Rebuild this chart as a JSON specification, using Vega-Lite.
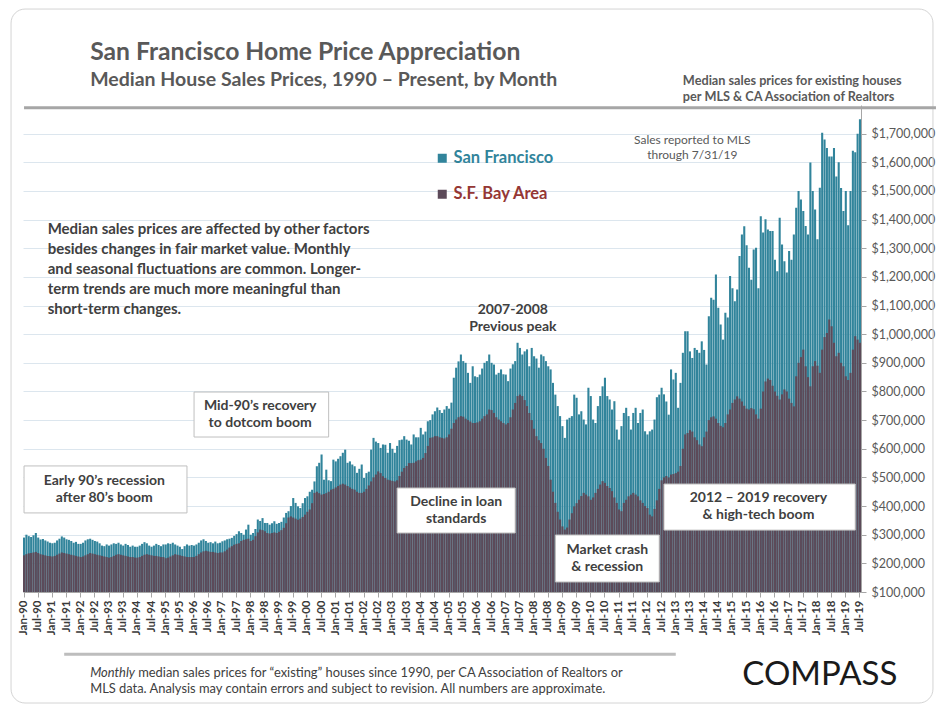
{
"$schema": "https://vega.github.io/schema/vega-lite/v6.json",
"width": 838,
"height": 487,
"autosize": {"type": "none"},
"padding": {"left": 23, "top": 105, "right": 75, "bottom": 113},
"background": "#ffffff",
"config": {"view": {"stroke": null}, "font": "Lato"},
"resolve": {"axis": {"x": "independent", "y": "independent"}},
"datasets": {"prices": [
{"m":"1990-01","sf":290000,"ba":228000},{"m":"1990-02","sf":300000,"ba":232000},{"m":"1990-03","sf":295000,"ba":235000},{"m":"1990-04","sf":292000,"ba":236000},{"m":"1990-05","sf":298000,"ba":238000},{"m":"1990-06","sf":306000,"ba":240000},{"m":"1990-07","sf":290000,"ba":236000},{"m":"1990-08","sf":283000,"ba":232000},{"m":"1990-09","sf":285000,"ba":230000},{"m":"1990-10","sf":280000,"ba":228000},{"m":"1990-11","sf":276000,"ba":226000},{"m":"1990-12","sf":272000,"ba":225000},
{"m":"1991-01","sf":270000,"ba":224000},{"m":"1991-02","sf":272000,"ba":226000},{"m":"1991-03","sf":280000,"ba":230000},{"m":"1991-04","sf":286000,"ba":234000},{"m":"1991-05","sf":294000,"ba":238000},{"m":"1991-06","sf":290000,"ba":236000},{"m":"1991-07","sf":284000,"ba":234000},{"m":"1991-08","sf":282000,"ba":232000},{"m":"1991-09","sf":278000,"ba":230000},{"m":"1991-10","sf":272000,"ba":228000},{"m":"1991-11","sf":275000,"ba":226000},{"m":"1991-12","sf":268000,"ba":224000},
{"m":"1992-01","sf":268000,"ba":222000},{"m":"1992-02","sf":272000,"ba":224000},{"m":"1992-03","sf":280000,"ba":228000},{"m":"1992-04","sf":284000,"ba":232000},{"m":"1992-05","sf":286000,"ba":236000},{"m":"1992-06","sf":282000,"ba":234000},{"m":"1992-07","sf":278000,"ba":232000},{"m":"1992-08","sf":276000,"ba":230000},{"m":"1992-09","sf":270000,"ba":228000},{"m":"1992-10","sf":262000,"ba":226000},{"m":"1992-11","sf":260000,"ba":224000},{"m":"1992-12","sf":266000,"ba":222000},
{"m":"1993-01","sf":262000,"ba":220000},{"m":"1993-02","sf":266000,"ba":222000},{"m":"1993-03","sf":270000,"ba":226000},{"m":"1993-04","sf":268000,"ba":230000},{"m":"1993-05","sf":272000,"ba":232000},{"m":"1993-06","sf":266000,"ba":230000},{"m":"1993-07","sf":262000,"ba":228000},{"m":"1993-08","sf":268000,"ba":226000},{"m":"1993-09","sf":264000,"ba":224000},{"m":"1993-10","sf":258000,"ba":222000},{"m":"1993-11","sf":262000,"ba":222000},{"m":"1993-12","sf":258000,"ba":220000},
{"m":"1994-01","sf":258000,"ba":220000},{"m":"1994-02","sf":262000,"ba":222000},{"m":"1994-03","sf":268000,"ba":226000},{"m":"1994-04","sf":274000,"ba":230000},{"m":"1994-05","sf":270000,"ba":232000},{"m":"1994-06","sf":262000,"ba":230000},{"m":"1994-07","sf":258000,"ba":228000},{"m":"1994-08","sf":262000,"ba":226000},{"m":"1994-09","sf":268000,"ba":226000},{"m":"1994-10","sf":264000,"ba":224000},{"m":"1994-11","sf":260000,"ba":222000},{"m":"1994-12","sf":266000,"ba":222000},
{"m":"1995-01","sf":266000,"ba":218000},{"m":"1995-02","sf":270000,"ba":220000},{"m":"1995-03","sf":268000,"ba":224000},{"m":"1995-04","sf":272000,"ba":228000},{"m":"1995-05","sf":266000,"ba":232000},{"m":"1995-06","sf":262000,"ba":230000},{"m":"1995-07","sf":258000,"ba":228000},{"m":"1995-08","sf":250000,"ba":226000},{"m":"1995-09","sf":260000,"ba":224000},{"m":"1995-10","sf":266000,"ba":222000},{"m":"1995-11","sf":262000,"ba":222000},{"m":"1995-12","sf":264000,"ba":222000},
{"m":"1996-01","sf":262000,"ba":222000},{"m":"1996-02","sf":266000,"ba":226000},{"m":"1996-03","sf":272000,"ba":232000},{"m":"1996-04","sf":280000,"ba":238000},{"m":"1996-05","sf":284000,"ba":242000},{"m":"1996-06","sf":278000,"ba":244000},{"m":"1996-07","sf":272000,"ba":242000},{"m":"1996-08","sf":274000,"ba":240000},{"m":"1996-09","sf":270000,"ba":240000},{"m":"1996-10","sf":276000,"ba":238000},{"m":"1996-11","sf":270000,"ba":236000},{"m":"1996-12","sf":272000,"ba":238000},
{"m":"1997-01","sf":277000,"ba":238000},{"m":"1997-02","sf":280000,"ba":242000},{"m":"1997-03","sf":284000,"ba":248000},{"m":"1997-04","sf":286000,"ba":255000},{"m":"1997-05","sf":289000,"ba":260000},{"m":"1997-06","sf":296000,"ba":265000},{"m":"1997-07","sf":302000,"ba":268000},{"m":"1997-08","sf":312000,"ba":270000},{"m":"1997-09","sf":306000,"ba":278000},{"m":"1997-10","sf":300000,"ba":282000},{"m":"1997-11","sf":318000,"ba":284000},{"m":"1997-12","sf":335000,"ba":286000},
{"m":"1998-01","sf":300000,"ba":278000},{"m":"1998-02","sf":306000,"ba":282000},{"m":"1998-03","sf":320000,"ba":295000},{"m":"1998-04","sf":353000,"ba":308000},{"m":"1998-05","sf":348000,"ba":318000},{"m":"1998-06","sf":358000,"ba":316000},{"m":"1998-07","sf":341000,"ba":312000},{"m":"1998-08","sf":341000,"ba":306000},{"m":"1998-09","sf":335000,"ba":304000},{"m":"1998-10","sf":340000,"ba":306000},{"m":"1998-11","sf":347000,"ba":308000},{"m":"1998-12","sf":338000,"ba":306000},
{"m":"1999-01","sf":341000,"ba":310000},{"m":"1999-02","sf":345000,"ba":316000},{"m":"1999-03","sf":360000,"ba":324000},{"m":"1999-04","sf":376000,"ba":340000},{"m":"1999-05","sf":382000,"ba":360000},{"m":"1999-06","sf":400000,"ba":364000},{"m":"1999-07","sf":428000,"ba":360000},{"m":"1999-08","sf":411000,"ba":356000},{"m":"1999-09","sf":399000,"ba":352000},{"m":"1999-10","sf":393000,"ba":356000},{"m":"1999-11","sf":410000,"ba":362000},{"m":"1999-12","sf":428000,"ba":370000},
{"m":"2000-01","sf":434000,"ba":380000},{"m":"2000-02","sf":450000,"ba":388000},{"m":"2000-03","sf":457000,"ba":410000},{"m":"2000-04","sf":486000,"ba":446000},{"m":"2000-05","sf":539000,"ba":450000},{"m":"2000-06","sf":551000,"ba":445000},{"m":"2000-07","sf":580000,"ba":440000},{"m":"2000-08","sf":492000,"ba":442000},{"m":"2000-09","sf":527000,"ba":445000},{"m":"2000-10","sf":490000,"ba":450000},{"m":"2000-11","sf":487000,"ba":457000},{"m":"2000-12","sf":562000,"ba":460000},
{"m":"2001-01","sf":556000,"ba":465000},{"m":"2001-02","sf":565000,"ba":470000},{"m":"2001-03","sf":574000,"ba":475000},{"m":"2001-04","sf":586000,"ba":478000},{"m":"2001-05","sf":597000,"ba":475000},{"m":"2001-06","sf":551000,"ba":470000},{"m":"2001-07","sf":556000,"ba":465000},{"m":"2001-08","sf":545000,"ba":460000},{"m":"2001-09","sf":539000,"ba":457000},{"m":"2001-10","sf":516000,"ba":450000},{"m":"2001-11","sf":530000,"ba":446000},{"m":"2001-12","sf":545000,"ba":446000},
{"m":"2002-01","sf":498000,"ba":450000},{"m":"2002-02","sf":515000,"ba":460000},{"m":"2002-03","sf":520000,"ba":472000},{"m":"2002-04","sf":597000,"ba":486000},{"m":"2002-05","sf":638000,"ba":500000},{"m":"2002-06","sf":625000,"ba":510000},{"m":"2002-07","sf":620000,"ba":521000},{"m":"2002-08","sf":603000,"ba":515000},{"m":"2002-09","sf":615000,"ba":504000},{"m":"2002-10","sf":614000,"ba":498000},{"m":"2002-11","sf":586000,"ba":492000},{"m":"2002-12","sf":620000,"ba":490000},
{"m":"2003-01","sf":600000,"ba":488000},{"m":"2003-02","sf":586000,"ba":486000},{"m":"2003-03","sf":610000,"ba":490000},{"m":"2003-04","sf":630000,"ba":505000},{"m":"2003-05","sf":632000,"ba":520000},{"m":"2003-06","sf":644000,"ba":533000},{"m":"2003-07","sf":632000,"ba":540000},{"m":"2003-08","sf":628000,"ba":550000},{"m":"2003-09","sf":615000,"ba":550000},{"m":"2003-10","sf":650000,"ba":551000},{"m":"2003-11","sf":640000,"ba":556000},{"m":"2003-12","sf":640000,"ba":560000},
{"m":"2004-01","sf":673000,"ba":562000},{"m":"2004-02","sf":650000,"ba":568000},{"m":"2004-03","sf":660000,"ba":585000},{"m":"2004-04","sf":696000,"ba":610000},{"m":"2004-05","sf":700000,"ba":638000},{"m":"2004-06","sf":720000,"ba":640000},{"m":"2004-07","sf":731000,"ba":644000},{"m":"2004-08","sf":744000,"ba":644000},{"m":"2004-09","sf":735000,"ba":640000},{"m":"2004-10","sf":725000,"ba":638000},{"m":"2004-11","sf":737000,"ba":636000},{"m":"2004-12","sf":749000,"ba":640000},
{"m":"2005-01","sf":740000,"ba":650000},{"m":"2005-02","sf":761000,"ba":670000},{"m":"2005-03","sf":848000,"ba":690000},{"m":"2005-04","sf":883000,"ba":702000},{"m":"2005-05","sf":905000,"ba":710000},{"m":"2005-06","sf":929000,"ba":714000},{"m":"2005-07","sf":906000,"ba":712000},{"m":"2005-08","sf":900000,"ba":705000},{"m":"2005-09","sf":865000,"ba":700000},{"m":"2005-10","sf":830000,"ba":695000},{"m":"2005-11","sf":888000,"ba":690000},{"m":"2005-12","sf":853000,"ba":690000},
{"m":"2006-01","sf":850000,"ba":692000},{"m":"2006-02","sf":859000,"ba":696000},{"m":"2006-03","sf":880000,"ba":705000},{"m":"2006-04","sf":900000,"ba":714000},{"m":"2006-05","sf":906000,"ba":720000},{"m":"2006-06","sf":929000,"ba":737000},{"m":"2006-07","sf":900000,"ba":735000},{"m":"2006-08","sf":894000,"ba":725000},{"m":"2006-09","sf":859000,"ba":710000},{"m":"2006-10","sf":865000,"ba":702000},{"m":"2006-11","sf":877000,"ba":696000},{"m":"2006-12","sf":860000,"ba":690000},
{"m":"2007-01","sf":859000,"ba":685000},{"m":"2007-02","sf":836000,"ba":690000},{"m":"2007-03","sf":880000,"ba":710000},{"m":"2007-04","sf":895000,"ba":737000},{"m":"2007-05","sf":906000,"ba":760000},{"m":"2007-06","sf":970000,"ba":784000},{"m":"2007-07","sf":952000,"ba":789000},{"m":"2007-08","sf":929000,"ba":784000},{"m":"2007-09","sf":940000,"ba":770000},{"m":"2007-10","sf":947000,"ba":749000},{"m":"2007-11","sf":888000,"ba":725000},{"m":"2007-12","sf":952000,"ba":700000},
{"m":"2008-01","sf":923000,"ba":670000},{"m":"2008-02","sf":915000,"ba":644000},{"m":"2008-03","sf":883000,"ba":630000},{"m":"2008-04","sf":929000,"ba":620000},{"m":"2008-05","sf":923000,"ba":600000},{"m":"2008-06","sf":906000,"ba":568000},{"m":"2008-07","sf":888000,"ba":540000},{"m":"2008-08","sf":877000,"ba":492000},{"m":"2008-09","sf":830000,"ba":450000},{"m":"2008-10","sf":789000,"ba":411000},{"m":"2008-11","sf":749000,"ba":380000},{"m":"2008-12","sf":714000,"ba":353000},
{"m":"2009-01","sf":679000,"ba":329000},{"m":"2009-02","sf":638000,"ba":318000},{"m":"2009-03","sf":702000,"ba":325000},{"m":"2009-04","sf":708000,"ba":353000},{"m":"2009-05","sf":714000,"ba":375000},{"m":"2009-06","sf":789000,"ba":399000},{"m":"2009-07","sf":778000,"ba":410000},{"m":"2009-08","sf":720000,"ba":422000},{"m":"2009-09","sf":731000,"ba":435000},{"m":"2009-10","sf":702000,"ba":446000},{"m":"2009-11","sf":685000,"ba":440000},{"m":"2009-12","sf":813000,"ba":434000},
{"m":"2010-01","sf":784000,"ba":422000},{"m":"2010-02","sf":702000,"ba":430000},{"m":"2010-03","sf":690000,"ba":446000},{"m":"2010-04","sf":749000,"ba":460000},{"m":"2010-05","sf":784000,"ba":475000},{"m":"2010-06","sf":818000,"ba":487000},{"m":"2010-07","sf":848000,"ba":481000},{"m":"2010-08","sf":784000,"ba":470000},{"m":"2010-09","sf":772000,"ba":463000},{"m":"2010-10","sf":737000,"ba":452000},{"m":"2010-11","sf":766000,"ba":430000},{"m":"2010-12","sf":667000,"ba":411000},
{"m":"2011-01","sf":632000,"ba":388000},{"m":"2011-02","sf":679000,"ba":382000},{"m":"2011-03","sf":725000,"ba":411000},{"m":"2011-04","sf":743000,"ba":422000},{"m":"2011-05","sf":714000,"ba":434000},{"m":"2011-06","sf":667000,"ba":440000},{"m":"2011-07","sf":725000,"ba":446000},{"m":"2011-08","sf":743000,"ba":440000},{"m":"2011-09","sf":690000,"ba":434000},{"m":"2011-10","sf":725000,"ba":420000},{"m":"2011-11","sf":737000,"ba":411000},{"m":"2011-12","sf":661000,"ba":400000},
{"m":"2012-01","sf":650000,"ba":393000},{"m":"2012-02","sf":661000,"ba":370000},{"m":"2012-03","sf":667000,"ba":364000},{"m":"2012-04","sf":702000,"ba":390000},{"m":"2012-05","sf":780000,"ba":420000},{"m":"2012-06","sf":789000,"ba":460000},{"m":"2012-07","sf":813000,"ba":490000},{"m":"2012-08","sf":790000,"ba":500000},{"m":"2012-09","sf":765000,"ba":505000},{"m":"2012-10","sf":719000,"ba":500000},{"m":"2012-11","sf":877000,"ba":510000},{"m":"2012-12","sf":842000,"ba":512000},
{"m":"2013-01","sf":865000,"ba":515000},{"m":"2013-02","sf":743000,"ba":520000},{"m":"2013-03","sf":830000,"ba":540000},{"m":"2013-04","sf":935000,"ba":600000},{"m":"2013-05","sf":1010000,"ba":650000},{"m":"2013-06","sf":1010000,"ba":655000},{"m":"2013-07","sf":940000,"ba":665000},{"m":"2013-08","sf":917000,"ba":660000},{"m":"2013-09","sf":952000,"ba":640000},{"m":"2013-10","sf":945000,"ba":630000},{"m":"2013-11","sf":935000,"ba":615000},{"m":"2013-12","sf":975000,"ba":609000},
{"m":"2014-01","sf":945000,"ba":640000},{"m":"2014-02","sf":894000,"ba":660000},{"m":"2014-03","sf":1063000,"ba":700000},{"m":"2014-04","sf":1127000,"ba":710000},{"m":"2014-05","sf":1120000,"ba":713000},{"m":"2014-06","sf":1208000,"ba":705000},{"m":"2014-07","sf":1092000,"ba":690000},{"m":"2014-08","sf":1034000,"ba":680000},{"m":"2014-09","sf":981000,"ba":675000},{"m":"2014-10","sf":1075000,"ba":690000},{"m":"2014-11","sf":1058000,"ba":720000},{"m":"2014-12","sf":1203000,"ba":737000},
{"m":"2015-01","sf":1160000,"ba":760000},{"m":"2015-02","sf":1115000,"ba":772000},{"m":"2015-03","sf":1156000,"ba":783000},{"m":"2015-04","sf":1273000,"ba":775000},{"m":"2015-05","sf":1348000,"ba":765000},{"m":"2015-06","sf":1377000,"ba":750000},{"m":"2015-07","sf":1310000,"ba":740000},{"m":"2015-08","sf":1232000,"ba":737000},{"m":"2015-09","sf":1190000,"ba":742000},{"m":"2015-10","sf":1296000,"ba":738000},{"m":"2015-11","sf":1302000,"ba":720000},{"m":"2015-12","sf":1160000,"ba":705000},
{"m":"2016-01","sf":1412000,"ba":740000},{"m":"2016-02","sf":1355000,"ba":800000},{"m":"2016-03","sf":1401000,"ba":835000},{"m":"2016-04","sf":1365000,"ba":845000},{"m":"2016-05","sf":1360000,"ba":840000},{"m":"2016-06","sf":1360000,"ba":820000},{"m":"2016-07","sf":1260000,"ba":800000},{"m":"2016-08","sf":1220000,"ba":785000},{"m":"2016-09","sf":1406000,"ba":772000},{"m":"2016-10","sf":1313000,"ba":790000},{"m":"2016-11","sf":1255000,"ba":807000},{"m":"2016-12","sf":1215000,"ba":800000},
{"m":"2017-01","sf":1290000,"ba":775000},{"m":"2017-02","sf":1260000,"ba":760000},{"m":"2017-03","sf":1348000,"ba":748000},{"m":"2017-04","sf":1441000,"ba":853000},{"m":"2017-05","sf":1500000,"ba":900000},{"m":"2017-06","sf":1470000,"ba":920000},{"m":"2017-07","sf":1430000,"ba":946000},{"m":"2017-08","sf":1378000,"ba":888000},{"m":"2017-09","sf":1348000,"ba":850000},{"m":"2017-10","sf":1599000,"ba":818000},{"m":"2017-11","sf":1500000,"ba":888000},{"m":"2017-12","sf":1435000,"ba":906000},
{"m":"2018-01","sf":1331000,"ba":890000},{"m":"2018-02","sf":1511000,"ba":865000},{"m":"2018-03","sf":1703000,"ba":946000},{"m":"2018-04","sf":1680000,"ba":990000},{"m":"2018-05","sf":1650000,"ba":1004000},{"m":"2018-06","sf":1620000,"ba":1051000},{"m":"2018-07","sf":1620000,"ba":1028000},{"m":"2018-08","sf":1650000,"ba":970000},{"m":"2018-09","sf":1550000,"ba":923000},{"m":"2018-10","sf":1600000,"ba":935000},{"m":"2018-11","sf":1510000,"ba":900000},{"m":"2018-12","sf":1430000,"ba":888000},
{"m":"2019-01","sf":1500000,"ba":853000},{"m":"2019-02","sf":1380000,"ba":840000},{"m":"2019-03","sf":1500000,"ba":865000},{"m":"2019-04","sf":1640000,"ba":946000},{"m":"2019-05","sf":1635000,"ba":993000},{"m":"2019-06","sf":1700000,"ba":981000},{"m":"2019-07","sf":1750000,"ba":970000}
]},
"layer": [
{
"data": {"values": [{"m1":"1990-01","m2":"2019-07","v1":-287500,"v2":2135000}]},
"mark": {"type": "rect", "fill": null, "stroke": "#d4d4d4", "strokeWidth": 1, "cornerRadius": 14, "xOffset": -13, "x2Offset": 73},
"encoding": {
"x": {"field": "m1", "type": "ordinal", "axis": null},
"x2": {"field": "m2"},
"y": {"field": "v1", "type": "quantitative", "scale": {"domain": [100000, 1800000], "nice": false, "zero": false}, "axis": null},
"y2": {"field": "v2"}
}
},
{
"data": {"name": "prices"},
"mark": {"type": "bar"},
"encoding": {
"x": {"field": "m", "type": "ordinal", "scale": {"paddingInner": 0.12, "paddingOuter": 0},
"axis": {"title": null, "values": ["1990-01","1990-07","1991-01","1991-07","1992-01","1992-07","1993-01","1993-07","1994-01","1994-07","1995-01","1995-07","1996-01","1996-07","1997-01","1997-07","1998-01","1998-07","1999-01","1999-07","2000-01","2000-07","2001-01","2001-07","2002-01","2002-07","2003-01","2003-07","2004-01","2004-07","2005-01","2005-07","2006-01","2006-07","2007-01","2007-07","2008-01","2008-07","2009-01","2009-07","2010-01","2010-07","2011-01","2011-07","2012-01","2012-07","2013-01","2013-07","2014-01","2014-07","2015-01","2015-07","2016-01","2016-07","2017-01","2017-07","2018-01","2018-07","2019-01","2019-07"],
"labelExpr": "(substring(datum.value, 5, 7) == '01' ? 'Jan-' : 'Jul-') + substring(datum.value, 2, 4)",
"labelAngle": -90, "labelFont": "Lato", "labelFontSize": 11.5, "labelFontWeight": "bold", "labelColor": "#3a3a3a", "labelPadding": 3, "labelOverlap": false, "labelBound": false, "tickSize": 5, "tickColor": "#a6a6a6", "domainColor": "#a6a6a6", "grid": false}},
"y": {"field": "sf", "type": "quantitative", "scale": {"domain": [100000, 1800000], "nice": false, "zero": false},
"axis": {"title": null, "orient": "right", "values": [100000,200000,300000,400000,500000,600000,700000,800000,900000,1000000,1100000,1200000,1300000,1400000,1500000,1600000,1700000], "format": "$,.0f", "labelFont": "Lato", "labelFontSize": 12.5, "labelColor": "#595959", "labelPadding": 5, "tickSize": 5, "tickColor": "#a6a6a6", "domainColor": "#a6a6a6", "grid": true, "gridColor": "#dce6ee"}},
"y2": {"datum": 100000},
"color": {"datum": "San Francisco", "type": "nominal", "scale": {"domain": ["San Francisco", "S.F. Bay Area"], "range": ["#31849b", "#5c4a59"]},
"legend": {"title": null, "orient": "none", "legendX": 411, "legendY": 45, "symbolType": "square", "symbolSize": 81, "symbolStrokeWidth": 0, "labelFont": "Lato", "labelFontSize": 16.5, "labelFontWeight": "bold", "rowPadding": 19, "labelOffset": 3,
"encode": {"labels": {"update": {"fill": {"signal": "datum.value === 'San Francisco' ? '#31849b' : '#953735'"}}}, "symbols": {"update": {"fill": {"signal": "datum.value === 'San Francisco' ? '#31849b' : '#953735'"}}}}}}
}
},
{
"data": {"name": "prices"},
"mark": {"type": "bar"},
"encoding": {
"x": {"field": "m", "type": "ordinal", "axis": null},
"y": {"field": "ba", "type": "quantitative", "scale": {"domain": [100000, 1800000], "nice": false, "zero": false}, "axis": null},
"y2": {"datum": 100000},
"color": {"datum": "S.F. Bay Area", "type": "nominal"}
}
},
{
"data": {"values": [
{"m1":"1990-01","m2":"1995-10","v1":376000,"v2":540000},
{"m1":"1996-01","m2":"2000-10","v1":641000,"v2":798000},
{"m1":"2003-03","m2":"2007-05","v1":306000,"v2":463000},
{"m1":"2008-10","m2":"2012-06","v1":135000,"v2":299000},
{"m1":"2012-08","m2":"2019-05","v1":316000,"v2":477000}
]},
"mark": {"type": "rect", "fill": "#ffffff", "stroke": "#bfbfbf", "strokeWidth": 1},
"encoding": {
"x": {"field": "m1", "type": "ordinal", "axis": null},
"x2": {"field": "m2"},
"y": {"field": "v1", "type": "quantitative", "scale": {"domain": [100000, 1800000], "nice": false, "zero": false}, "axis": null},
"y2": {"field": "v2"}
}
},
{
"data": {"values": [
{"m":"1992-11","v":487500,"t":"Early 90’s recession\nafter 80’s boom"},
{"m":"1998-05","v":749300,"t":"Mid-90’s recovery\nto dotcom boom"},
{"m":"2005-04","v":414200,"t":"Decline in loan\nstandards"},
{"m":"2010-08","v":246600,"t":"Market crash\n& recession"},
{"m":"2015-12","v":426400,"t":"2012 – 2019  recovery\n& high-tech boom"},
{"m":"2007-04","v":1084400,"t":"2007-2008\nPrevious peak"}
]},
"mark": {"type": "text", "lineBreak": "\n", "font": "Lato", "fontSize": 14, "fontWeight": "bold", "color": "#404040", "align": "center", "baseline": "middle", "lineHeight": 17},
"encoding": {
"x": {"field": "m", "type": "ordinal", "axis": null},
"y": {"field": "v", "type": "quantitative", "scale": {"domain": [100000, 1800000], "nice": false, "zero": false}, "axis": null},
"text": {"field": "t"}
}
},
{
"data": {"values": [
{"m":"1990-11","v":1367100,"t":"Median sales prices are affected by other factors\nbesides changes in fair market value. Monthly\nand seasonal fluctuations are common. Longer-\nterm trends are much more meaningful than\nshort-term changes."}
]},
"mark": {"type": "text", "lineBreak": "\n", "font": "Lato", "fontSize": 15, "fontWeight": "bold", "color": "#404040", "align": "left", "baseline": "middle", "lineHeight": 20},
"encoding": {
"x": {"field": "m", "type": "ordinal", "axis": null},
"y": {"field": "v", "type": "quantitative", "scale": {"domain": [100000, 1800000], "nice": false, "zero": false}, "axis": null},
"text": {"field": "t"}
}
},
{
"data": {"values": [
{"m":"2013-08","v":1677800,"t":"Sales reported to MLS\nthrough 7/31/19"}
]},
"mark": {"type": "text", "lineBreak": "\n", "font": "Lato", "fontSize": 12, "color": "#595959", "align": "center", "baseline": "middle", "lineHeight": 15},
"encoding": {
"x": {"field": "m", "type": "ordinal", "axis": null},
"y": {"field": "v", "type": "quantitative", "scale": {"domain": [100000, 1800000], "nice": false, "zero": false}, "axis": null},
"text": {"field": "t"}
}
},
{
"data": {"values": [
{"m":"1992-05","v":1957000,"t":"San Francisco Home Price Appreciation"}
]},
"mark": {"type": "text", "font": "Lato", "fontSize": 24.7, "fontWeight": "bold", "color": "#595959", "align": "left", "baseline": "alphabetic"},
"encoding": {
"x": {"field": "m", "type": "ordinal", "axis": null},
"y": {"field": "v", "type": "quantitative", "scale": {"domain": [100000, 1800000], "nice": false, "zero": false}, "axis": null},
"text": {"field": "t"}
}
},
{
"data": {"values": [
{"m":"1992-05","v":1866000,"t":"Median House Sales Prices, 1990 – Present, by Month"}
]},
"mark": {"type": "text", "font": "Lato", "fontSize": 19.5, "fontWeight": "bold", "color": "#595959", "align": "left", "baseline": "alphabetic"},
"encoding": {
"x": {"field": "m", "type": "ordinal", "axis": null},
"y": {"field": "v", "type": "quantitative", "scale": {"domain": [100000, 1800000], "nice": false, "zero": false}, "axis": null},
"text": {"field": "t"}
}
},
{
"data": {"values": [
{"m":"2013-04","v":1883700,"t":"Median sales prices for existing houses\nper MLS & CA Association  of Realtors"}
]},
"mark": {"type": "text", "lineBreak": "\n", "font": "Lato", "fontSize": 12.7, "fontWeight": "bold", "color": "#595959", "align": "left", "baseline": "middle", "lineHeight": 16},
"encoding": {
"x": {"field": "m", "type": "ordinal", "axis": null},
"y": {"field": "v", "type": "quantitative", "scale": {"domain": [100000, 1800000], "nice": false, "zero": false}, "axis": null},
"text": {"field": "t"}
}
},
{
"data": {"values": [{"m1":"1990-01","m2":"2019-07","v":1790500}]},
"mark": {"type": "rule", "color": "#a6a6a6", "strokeWidth": 3, "x2Offset": 76},
"encoding": {
"x": {"field": "m1", "type": "ordinal", "axis": null},
"x2": {"field": "m2"},
"y": {"field": "v", "type": "quantitative", "scale": {"domain": [100000, 1800000], "nice": false, "zero": false}, "axis": null}
}
},
{
"data": {"values": [{"m1":"1991-06","m2":"2013-01","v":-117500}]},
"mark": {"type": "rule", "color": "#bdbdbd", "strokeWidth": 3},
"encoding": {
"x": {"field": "m1", "type": "ordinal", "axis": null},
"x2": {"field": "m2"},
"y": {"field": "v", "type": "quantitative", "scale": {"domain": [100000, 1800000], "nice": false, "zero": false}, "axis": null}
}
},
{
"data": {"values": [{"m":"1992-05","v":-182700,"t":"Monthly"}]},
"mark": {"type": "text", "font": "Lato", "fontSize": 12.9, "fontStyle": "italic", "color": "#404040", "align": "left", "baseline": "middle"},
"encoding": {
"x": {"field": "m", "type": "ordinal", "axis": null},
"y": {"field": "v", "type": "quantitative", "scale": {"domain": [100000, 1800000], "nice": false, "zero": false}, "axis": null},
"text": {"field": "t"}
}
},
{
"data": {"values": [{"m":"1992-05","v":-182700,"t":"median sales prices for “existing” houses since 1990, per CA Association of Realtors or"}]},
"mark": {"type": "text", "font": "Lato", "fontSize": 12.9, "color": "#404040", "align": "left", "baseline": "middle", "dx": 48},
"encoding": {
"x": {"field": "m", "type": "ordinal", "axis": null},
"y": {"field": "v", "type": "quantitative", "scale": {"domain": [100000, 1800000], "nice": false, "zero": false}, "axis": null},
"text": {"field": "t"}
}
},
{
"data": {"values": [{"m":"1992-05","v":-236900,"t":"MLS data.  Analysis may contain errors and subject to revision. All numbers are approximate."}]},
"mark": {"type": "text", "font": "Lato", "fontSize": 12.9, "color": "#404040", "align": "left", "baseline": "middle"},
"encoding": {
"x": {"field": "m", "type": "ordinal", "axis": null},
"y": {"field": "v", "type": "quantitative", "scale": {"domain": [100000, 1800000], "nice": false, "zero": false}, "axis": null},
"text": {"field": "t"}
}
},
{
"data": {"values": [{"m":"2018-02","v":-189700,"t":"COMPASS"}]},
"mark": {"type": "text", "font": "Lato", "fontSize": 33, "color": "#1a1a1a", "align": "center", "baseline": "middle"},
"encoding": {
"x": {"field": "m", "type": "ordinal", "axis": null},
"y": {"field": "v", "type": "quantitative", "scale": {"domain": [100000, 1800000], "nice": false, "zero": false}, "axis": null},
"text": {"field": "t"}
}
}
]
}
